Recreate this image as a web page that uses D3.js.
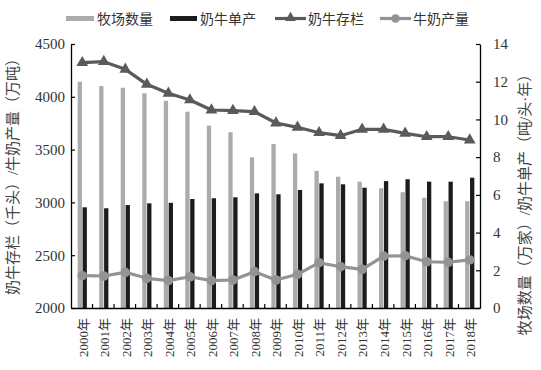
<!DOCTYPE html>
<html><head><meta charset="utf-8">
<script src="https://cdn.jsdelivr.net/npm/d3@7"></script>
<style>
html,body{margin:0;padding:0;background:#fff;}
svg{display:block;}
text{font-family:"Liberation Serif","Noto Sans CJK SC",serif;}
</style></head>
<body>
<svg id="chart" width="541" height="370"></svg>
<script>
const years = ["2000年","2001年","2002年","2003年","2004年","2005年","2006年","2007年","2008年","2009年","2010年","2011年","2012年","2013年","2014年","2015年","2016年","2017年","2018年"];
const farmCount = [12.00,11.77,11.68,11.39,10.99,10.41,9.67,9.32,7.99,8.70,8.20,7.27,6.96,6.70,6.35,6.14,5.85,5.66,5.66];
const yieldPerCow = [5.34,5.29,5.46,5.55,5.58,5.78,5.82,5.87,6.08,6.03,6.26,6.61,6.56,6.38,6.73,6.83,6.70,6.70,6.91];
const cowStock = [4323,4333,4260,4118,4033,3970,3875,3869,3859,3752,3711,3660,3632,3692,3692,3654,3622,3622,3591];
const milkOutput = [2306,2303,2338,2281,2259,2296,2259,2265,2344,2265,2319,2429,2391,2366,2492,2495,2438,2433,2455];
const leftTicks = [2000,2500,3000,3500,4000,4500];
const rightTicks = [0,2,4,6,8,10,12,14];
const seriesNames = ["牧场数量","奶牛单产","奶牛存栏","牛奶产量"];

const svg = d3.select("#chart");
const L = 71, R = 480, T = 44, B = 308;
const x = d3.scaleBand().domain(years).range([L, R]);
const yL = d3.scaleLinear().domain([2000, 4500]).range([B, T]);
const yR = d3.scaleLinear().domain([0, 14]).range([B, T]);
const cx = d => x(d) + x.bandwidth()/2 + 0.5;

const cGray = "#ababab", cBlack = "#1c1c1c", cTri = "#5a5a5a", cCir = "#939393";

// bars
svg.append("g").selectAll("rect").data(years).join("rect")
  .attr("x", (d,i) => cx(d) - 4.6).attr("width", 4.3)
  .attr("y", (d,i) => yR(farmCount[i])).attr("height", (d,i) => B - yR(farmCount[i]))
  .attr("fill", cGray);
svg.append("g").selectAll("rect").data(years).join("rect")
  .attr("x", (d,i) => cx(d) + 0.3).attr("width", 4.3)
  .attr("y", (d,i) => yR(yieldPerCow[i])).attr("height", (d,i) => B - yR(yieldPerCow[i]))
  .attr("fill", cBlack);

// lines
const lineL = d3.line().x((v,i) => cx(years[i])).y(v => yL(v));
svg.append("path").attr("d", lineL(cowStock)).attr("fill","none").attr("stroke",cTri).attr("stroke-width",3.2).attr("stroke-linejoin","round");
svg.append("g").selectAll("path").data(cowStock).join("path")
  .attr("d", d3.symbol(d3.symbolTriangle, 60)())
  .attr("transform", (v,i) => `translate(${cx(years[i])},${yL(v)})`)
  .attr("fill", cTri);
svg.append("path").attr("d", lineL(milkOutput)).attr("fill","none").attr("stroke",cCir).attr("stroke-width",3.2).attr("stroke-linejoin","round");
svg.append("g").selectAll("circle").data(milkOutput).join("circle")
  .attr("cx", (v,i) => cx(years[i])).attr("cy", v => yL(v)).attr("r", 4.8)
  .attr("fill", cCir);

// axes
const axL = svg.append("g").attr("transform", `translate(${L},0)`)
  .call(d3.axisLeft(yL).tickValues(leftTicks).tickSizeInner(-4).tickSizeOuter(0).tickPadding(6).tickFormat(d3.format("d")));
const axR = svg.append("g").attr("transform", `translate(${R},0)`)
  .call(d3.axisRight(yR).tickValues(rightTicks).tickSizeInner(-4).tickSizeOuter(0).tickPadding(13).tickFormat(d3.format("d")));
[axL, axR].forEach(a => {
  a.select(".domain").attr("stroke","#000").attr("stroke-width",1.3);
  a.selectAll(".tick line").attr("stroke","#000").attr("stroke-width",1.2);
  a.selectAll(".tick text").attr("font-size",15).attr("fill","#333").attr("font-family","Liberation Serif");
});
const axB = svg.append("g").attr("transform", `translate(0,${B})`)
  .call(d3.axisBottom(x).tickSize(0).tickSizeOuter(0));
axB.select(".domain").attr("stroke","#000").attr("stroke-width",1.3);
axB.selectAll(".tick text")
  .attr("font-size",13).attr("fill","#333")
  .attr("text-anchor","end")
  .attr("transform","rotate(-90)")
  .attr("x",-10).attr("y",0).attr("dy","0.45em").attr("dx",0);
// category separator ticks (inward)
svg.append("g").selectAll("line").data(years.slice(1)).join("line")
  .attr("x1", d => x(d)).attr("x2", d => x(d))
  .attr("y1", B).attr("y2", B - 4)
  .attr("stroke","#000").attr("stroke-width",1.2);

// axis titles
svg.append("text").attr("transform","translate(18,173) rotate(-90)")
  .attr("text-anchor","middle").attr("font-size",15).attr("fill","#444")
  .text("奶牛存栏（千头）/牛奶产量（万吨）");
svg.append("text").attr("transform","translate(530,201) rotate(-90)")
  .attr("text-anchor","middle").attr("font-size",15).attr("fill","#444")
  .text("牧场数量（万家）/奶牛单产（吨/头·年）");

// legend
const lg = svg.append("g").attr("font-size",14).attr("fill","#333");
lg.append("rect").attr("x",66).attr("y",16).attr("width",28).attr("height",5).attr("fill",cGray);
lg.append("text").attr("x",97).attr("y",23.5).text(seriesNames[0]).attr("fill","#333");
lg.append("rect").attr("x",170).attr("y",16).attr("width",27).attr("height",5).attr("fill",cBlack);
lg.append("text").attr("x",200).attr("y",23.5).text(seriesNames[1]).attr("fill","#333");
lg.append("line").attr("x1",275).attr("x2",306).attr("y1",18.5).attr("y2",18.5).attr("stroke",cTri).attr("stroke-width",3.2);
lg.append("path").attr("d", d3.symbol(d3.symbolTriangle, 50)()).attr("transform","translate(290.5,18)").attr("fill",cTri);
lg.append("text").attr("x",308).attr("y",23.5).text(seriesNames[2]).attr("fill","#333");
lg.append("line").attr("x1",380).attr("x2",411).attr("y1",18.5).attr("y2",18.5).attr("stroke",cCir).attr("stroke-width",3.2);
lg.append("circle").attr("cx",395.5).attr("cy",18.5).attr("r",4.3).attr("fill",cCir);
lg.append("text").attr("x",413).attr("y",23.5).text(seriesNames[3]).attr("fill","#333");
</script>
</body></html>
